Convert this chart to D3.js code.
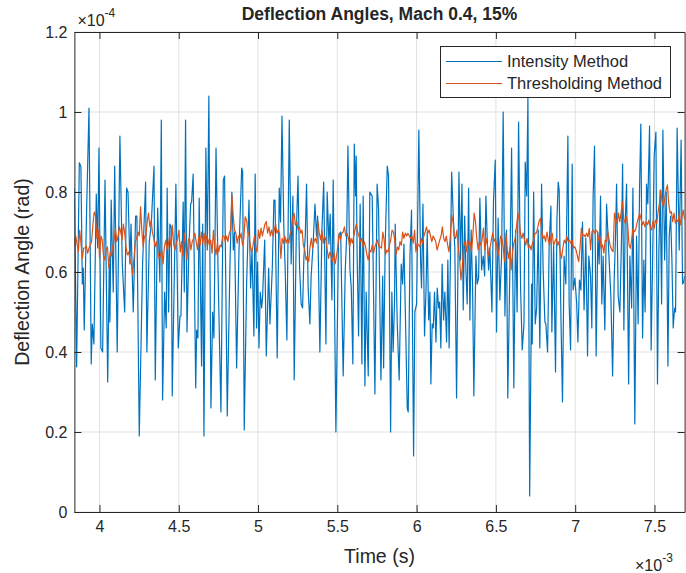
<!DOCTYPE html>
<html lang="en">
<head>
<meta charset="UTF-8">
<title>Deflection Angles, Mach 0.4, 15%</title>
<script src="https://d3js.org/d3.v7.min.js"></script>
<style>
  body { margin: 0; background: #fff; }
  text { font-family: "Liberation Sans", Arial, Helvetica, sans-serif; fill: #262626; }
</style>
</head>
<body>
<svg id="chart" width="686" height="573"></svg>
<script>
// time in ms (x10^-3 s), angle in x10^-4 rad
const timeRange = [3.842, 7.69];
const angleRange = [0, 1.2];
const xTicks = [4, 4.5, 5, 5.5, 6, 6.5, 7, 7.5];
const xTickLabels = ["4", "4.5", "5", "5.5", "6", "6.5", "7", "7.5"];
const yTicks = [0, 0.2, 0.4, 0.6, 0.8, 1, 1.2];
const yTickLabels = ["0", "0.2", "0.4", "0.6", "0.8", "1", "1.2"];
const seriesNames = ["Intensity Method", "Thresholding Method"];

// intensity method
const intensityTime = [
  3.842,3.856,3.873,3.883,3.892,3.898,3.904,3.919,3.934,3.948,
  3.955,3.965,3.980,3.989,3.997,4.009,4.020,4.035,4.052,4.062,
  4.066,4.074,4.087,4.096,4.112,4.129,4.144,4.159,4.171,4.180,
  4.192,4.199,4.213,4.228,4.236,4.251,4.272,4.291,4.299,4.314,
  4.327,4.344,4.352,4.367,4.381,4.390,4.398,4.411,4.421,4.427,
  4.436,4.444,4.453,4.459,4.482,4.497,4.508,4.514,4.528,4.535,
  4.543,4.552,4.564,4.575,4.581,4.591,4.607,4.613,4.621,4.629,
  4.644,4.651,4.659,4.671,4.680,4.690,4.703,4.714,4.722,4.735,
  4.749,4.766,4.781,4.789,4.806,
  4.823,4.835,4.844,4.852,4.865,4.880,4.897,4.903,4.913,4.928,
  4.943,4.953,4.962,4.974,4.982,4.991,4.997,5.006,5.014,5.023,
  5.029,5.042,5.052,5.067,5.075,5.090,5.100,5.107,5.121,5.134,
  5.142,5.151,5.163,5.171,5.182,5.197,5.209,5.220,5.228,5.241,
  5.252,5.262,5.272,5.281,5.289,5.298,5.306,5.316,5.327,5.335,
  5.348,5.359,5.369,5.376,5.390,5.403,5.414,5.428,5.436,5.447,
  5.455,5.466,5.474,5.480,5.491,5.508,5.521,5.537,5.550,5.559,
  5.567,5.579,5.588,5.598,5.607,5.615,5.619,5.625,5.634,5.644,
  5.655,5.663,5.674,5.682,5.695,5.705,5.720,5.737,5.751,5.760,
  5.775,5.786,5.792,5.802,5.815,5.823,5.836,5.844,5.852,5.861,
  5.865,5.878,5.890,5.903,5.912,5.920,5.931,5.941,5.947,5.958,
  5.968,5.981,5.989,6.000,6.014,6.025,6.031,6.040,6.050,6.059,
  6.067,6.076,6.084,6.090,6.098,6.105,6.113,6.122,6.130,6.139,
  6.145,6.153,6.161,6.170,6.178,6.189,6.197,6.205,6.221,6.231,
  6.241,6.252,6.267,6.277,6.286,6.294,6.303,6.311,6.319,6.328,
  6.336,6.344,6.353,6.361,6.374,6.382,6.391,6.399,6.410,6.420,
  6.429,6.437,6.445,6.454,6.462,6.475,6.485,6.496,6.504,6.514,
  6.525,6.536,6.546,6.557,6.567,6.575,6.588,6.599,6.613,6.624,
  6.634,6.643,6.656,6.666,6.677,6.685,6.694,6.702,6.713,
  6.725,6.729,6.738,6.748,6.757,6.767,6.777,6.788,6.798,6.809,
  6.815,6.826,6.836,6.847,6.853,6.864,6.876,6.885,6.893,6.899,
  6.910,6.920,6.930,6.941,6.954,6.962,6.971,6.981,6.987,6.998,
  7.009,7.017,7.027,7.036,7.046,7.056,7.067,7.078,7.086,7.097,
  7.105,7.113,7.122,7.132,7.143,7.151,7.160,7.168,7.176,7.187,
  7.198,7.206,7.214,7.225,7.236,7.246,7.255,7.261,7.271,7.282,
  7.293,7.299,7.307,7.315,7.324,7.337,7.345,7.356,7.364,7.376,
  7.387,7.397,7.406,7.414,7.425,7.433,7.441,7.450,7.458,7.469,
  7.479,7.488,7.498,7.509,7.519,7.528,7.536,7.545,7.553,7.564,
  7.574,7.585,7.593,7.602,7.610,7.618,7.627,7.633,7.643,7.656,
  7.668,7.677,7.685,7.690
];
const intensityAngle = [
  0.81,0.363,0.873,0.863,0.57,0.61,0.455,0.755,1.01,0.37,
  0.47,0.42,0.795,0.66,0.91,0.41,0.40,0.83,0.325,0.62,
  0.475,0.78,0.55,0.865,0.40,0.94,0.62,0.50,0.81,0.80,
  0.62,0.72,0.50,0.74,0.74,0.19,0.62,0.825,0.40,0.675,
  0.72,0.865,0.33,0.76,0.575,0.98,0.28,0.55,0.46,0.81,
  0.50,0.72,0.71,0.29,0.82,0.41,0.49,0.49,0.775,0.55,
  0.98,0.45,0.66,0.77,0.775,0.845,0.31,0.455,0.435,0.785,
  0.365,0.72,0.19,0.91,0.655,1.04,0.26,0.50,0.435,0.91,
  0.58,0.25,0.83,0.84,0.24,
  0.62,0.80,0.655,0.70,0.36,0.655,0.86,0.85,0.205,0.57,
  0.78,0.56,0.655,0.44,0.845,0.46,0.625,0.41,0.55,0.51,
  0.54,0.68,0.39,0.61,0.47,0.61,0.78,0.78,0.385,0.81,
  0.725,0.99,0.705,0.61,0.43,0.98,0.62,0.79,0.33,0.69,
  0.84,0.61,0.52,0.51,0.635,0.69,0.82,0.56,0.47,0.59,
  0.675,0.77,0.69,0.74,0.40,0.705,0.825,0.42,0.80,0.67,
  0.745,0.53,0.83,0.62,0.20,0.69,0.70,0.34,0.605,0.69,
  0.915,0.61,0.56,0.37,0.92,0.79,0.89,0.64,0.44,0.77,
  0.37,0.79,0.315,0.55,0.34,0.80,0.79,0.295,0.82,0.76,
  0.33,0.59,0.36,0.67,0.865,0.84,0.20,0.55,0.40,0.53,
  0.72,0.47,0.33,0.62,0.57,0.67,0.46,0.26,0.25,0.64,
  0.755,0.14,0.50,0.52,0.955,0.63,0.56,0.77,0.44,0.55,
  0.70,0.48,0.55,0.32,0.47,0.46,0.55,0.425,0.56,0.51,
  0.525,0.41,0.62,0.48,0.55,0.425,0.63,0.41,0.85,0.74,
  0.66,0.285,0.85,0.63,0.82,0.505,0.74,0.605,0.52,0.81,
  0.48,0.705,0.56,0.29,0.64,0.57,0.585,0.785,0.605,0.64,
  0.59,0.79,0.685,0.605,0.66,0.50,0.78,0.88,0.45,0.735,
  0.53,0.64,1.00,0.49,0.705,0.285,0.605,0.91,0.31,0.705,
  0.50,0.975,0.555,0.405,0.47,0.875,0.79,1.035,0.04,
  0.57,0.42,0.80,0.47,0.51,0.705,0.41,0.82,0.605,0.475,
  0.47,0.40,0.67,0.765,0.45,0.67,0.35,0.73,0.825,0.805,
  0.49,0.275,0.64,0.57,0.94,0.52,0.405,0.87,0.555,0.585,
  0.525,0.425,0.58,0.555,0.725,0.505,0.685,0.39,0.64,0.59,
  0.46,0.785,0.915,0.39,0.70,0.62,0.79,0.52,0.64,0.455,
  0.77,0.70,0.63,0.54,0.34,0.58,0.70,0.82,0.54,0.50,
  0.70,0.87,0.455,0.72,0.82,0.32,0.64,0.51,0.81,0.22,
  0.69,0.47,0.81,0.97,0.435,0.63,0.50,0.82,0.77,0.965,
  0.405,0.62,0.89,0.95,0.32,0.655,0.805,0.52,0.955,0.63,
  0.80,0.365,0.69,0.74,0.63,0.46,0.51,0.50,0.96,0.655,
  0.93,0.57,0.575,0.59
];

// thresholding method, evenly spaced frames from timeRange[0] to timeRange[1]
const thresholdAngle = [
  0.663,0.69,0.67,0.65,0.705,0.67,0.634,0.66,0.66,0.665,
  0.647,0.66,0.667,0.676,0.72,0.75,0.74,0.684,0.705,0.634,
  0.69,0.68,0.64,0.63,0.655,0.663,0.61,0.65,0.64,0.665,
  0.68,0.71,0.676,0.69,0.713,0.70,0.68,0.72,0.697,0.663,
  0.643,0.65,0.63,0.62,0.593,0.634,0.676,0.684,0.70,0.69,
  0.763,0.70,0.663,0.69,0.69,0.726,0.747,0.713,0.73,0.697,
  0.684,0.663,0.676,0.65,0.634,0.64,0.655,0.62,0.663,0.68,
  0.655,0.67,0.69,0.663,0.717,0.67,0.655,
  0.672,0.684,0.705,0.65,0.676,0.64,0.697,0.667,0.63,0.68,
  0.684,0.655,0.676,0.684,0.697,0.676,0.655,0.69,0.667,0.70,
  0.672,0.697,0.663,0.69,0.68,0.667,0.68,0.647,0.705,0.663,
  0.643,0.672,0.65,0.667,0.663,0.69,0.69,0.676,0.69,0.676,
  0.697,0.705,0.793,0.738,0.705,0.697,0.672,0.69,0.684,0.697,
  0.667,0.684,0.738,0.73,0.70,0.69,0.663,0.65,0.667,0.69,
  0.663,0.65,0.705,0.684,0.71,0.69,0.705,0.72,0.726,0.697,
  0.713,0.69,0.705,0.69,0.705,0.72,0.697,
  0.705,0.697,0.634,0.684,0.672,0.69,0.672,0.684,0.672,0.697,
  0.705,0.738,0.747,0.717,0.726,0.705,0.713,0.697,0.705,0.667,
  0.655,0.63,0.64,0.626,0.663,0.684,0.66,0.676,0.684,0.672,
  0.726,0.697,0.68,0.705,0.672,0.69,0.68,0.655,0.634,0.65,
  0.64,0.626,0.65,0.62,0.64,0.663,0.697,0.68,0.697,0.70,
  0.713,0.69,0.697,0.684,0.663,0.684,0.672,0.69,0.705,0.72,
  0.70,0.69,0.676,0.684,0.663,0.676,0.663,0.643,0.63,0.655,
  0.65,0.667,0.647,0.663,0.672,0.68,0.663,
  0.663,0.66,0.70,0.68,0.643,0.655,0.65,0.667,0.68,0.705,
  0.70,0.68,0.643,0.663,0.655,0.676,0.667,0.70,0.684,0.697,
  0.69,0.697,0.69,0.684,0.69,0.672,0.705,0.65,0.672,0.667,
  0.663,0.684,0.672,0.69,0.70,0.713,0.697,0.705,0.69,0.676,
  0.69,0.684,0.676,0.655,0.667,0.68,0.69,0.713,0.684,0.676,
  0.69,0.667,0.65,0.69,0.743,0.726,0.69,0.684,0.705,0.663,
  0.634,0.58,0.61,0.663,0.676,0.65,0.68,0.667,0.676,0.65,
  0.69,0.747,0.726,0.684,0.655,0.676,0.667,
  0.68,0.71,0.655,0.684,0.667,0.64,0.66,0.68,0.697,0.676,
  0.684,0.667,0.64,0.663,0.69,0.684,0.66,0.626,0.697,0.655,
  0.634,0.663,0.605,0.65,0.672,0.684,0.713,0.747,0.73,0.697,
  0.684,0.697,0.68,0.667,0.684,0.66,0.667,0.655,0.672,0.68,
  0.697,0.697,0.71,0.726,0.734,0.705,0.684,0.69,0.676,0.70,
  0.68,0.667,0.69,0.697,0.667,0.676,0.684,0.667,0.676,0.65,
  0.634,0.66,0.68,0.672,0.69,0.676,0.68,0.672,0.68,0.66,
  0.663,0.655,0.64,0.626,0.66,0.71,0.69,
  0.693,0.688,0.697,0.688,0.709,0.655,0.701,0.705,0.697,0.705,
  0.701,0.68,0.688,0.659,0.668,0.647,0.68,0.676,0.701,0.68,
  0.663,0.655,0.651,0.747,0.734,0.722,0.747,0.726,0.747,0.776,
  0.734,0.722,0.738,0.718,0.668,0.659,0.68,0.709,0.701,0.705,
  0.722,0.734,0.747,0.734,0.718,0.726,0.713,0.726,0.718,0.73,
  0.713,0.705,0.726,0.709,0.73,0.722,0.751,0.772,0.805,0.776,
  0.763,0.784,0.805,0.818,0.772,0.747,0.751,0.726,0.747,0.722,
  0.73,0.726,0.747,0.718,0.738,0.755,0.73
];

const colors = ["#0072BD", "#D95319"];
const axisColor = "#262626";
const gridColor = "#e1e1e1";

const W = 686, H = 573;
const margin = {top: 32, right: 1.4, bottom: 61, left: 74.4};
const plotW = W - margin.left - margin.right;
const plotH = H - margin.top - margin.bottom;

const svg = d3.select("#chart");
svg.append("rect").attr("width", W).attr("height", H).attr("fill", "#fff");

const x = d3.scaleLinear().domain(timeRange).range([margin.left, margin.left + plotW]);
const y = d3.scaleLinear().domain(angleRange).range([margin.top + plotH, margin.top]);

// grid
const grid = svg.append("g");
grid.selectAll(".gx").data(xTicks).enter().append("line")
  .attr("x1", d => x(d)).attr("x2", d => x(d))
  .attr("y1", margin.top).attr("y2", margin.top + plotH)
  .attr("stroke", gridColor).attr("stroke-width", 1);
grid.selectAll(".gy").data(yTicks).enter().append("line")
  .attr("x1", margin.left).attr("x2", margin.left + plotW)
  .attr("y1", d => y(d)).attr("y2", d => y(d))
  .attr("stroke", gridColor).attr("stroke-width", 1);

// lines
svg.append("clipPath").attr("id", "clip").append("rect")
  .attr("x", margin.left).attr("y", margin.top).attr("width", plotW).attr("height", plotH);

const intensity = intensityTime.map((t, i) => [t, intensityAngle[i]]);
const step = (timeRange[1] - timeRange[0]) / (thresholdAngle.length - 1);
const threshold = thresholdAngle.map((v, i) => [timeRange[0] + i * step, v]);

const line = d3.line().x(d => x(d[0])).y(d => y(d[1]));
const plot = svg.append("g").attr("clip-path", "url(#clip)");
plot.append("path").datum(intensity).attr("d", line)
  .attr("fill", "none").attr("stroke", colors[0]).attr("stroke-width", 1.2).attr("stroke-linejoin", "round");
plot.append("path").datum(threshold).attr("d", line)
  .attr("fill", "none").attr("stroke", colors[1]).attr("stroke-width", 1.2).attr("stroke-linejoin", "round");

// axes
const tickLen = 7;
function styleAxis(g) {
  g.selectAll("path").attr("stroke", axisColor).attr("stroke-width", 1);
  g.selectAll("line").attr("stroke", axisColor).attr("stroke-width", 1);
  g.selectAll("text").attr("fill", axisColor).style("font-size", "16px")
    .style("font-family", '"Liberation Sans", Arial, sans-serif');
}
svg.append("g").attr("transform", `translate(0,${margin.top + plotH})`)
  .call(d3.axisBottom(x).tickValues(xTicks).tickFormat((d, i) => xTickLabels[i])
    .tickSizeInner(-tickLen).tickSizeOuter(0).tickPadding(9))
  .call(styleAxis);
svg.append("g").attr("transform", `translate(0,${margin.top})`)
  .call(d3.axisTop(x).tickValues(xTicks).tickFormat("").tickSizeInner(-tickLen).tickSizeOuter(0))
  .call(styleAxis);
svg.append("g").attr("transform", `translate(${margin.left},0)`)
  .call(d3.axisLeft(y).tickValues(yTicks).tickFormat((d, i) => yTickLabels[i])
    .tickSizeInner(-tickLen).tickSizeOuter(0).tickPadding(7))
  .call(styleAxis);
svg.append("g").attr("transform", `translate(${margin.left + plotW},0)`)
  .call(d3.axisRight(y).tickValues(yTicks).tickFormat("").tickSizeInner(-tickLen).tickSizeOuter(0))
  .call(styleAxis);

// exponent labels
const expTop = svg.append("text").attr("x", margin.left + 3).attr("y", 26).style("font-size", "16px");
expTop.append("tspan").text("\u00d710");
expTop.append("tspan").attr("dy", -9).style("font-size", "12px").text("-4");
const expBot = svg.append("text").attr("x", 635).attr("y", 571).style("font-size", "16px");
expBot.append("tspan").text("\u00d710");
expBot.append("tspan").attr("dy", -9).style("font-size", "12px").text("-3");

// titles
svg.append("text").attr("x", margin.left + plotW / 2).attr("y", 20)
  .attr("text-anchor", "middle").style("font-size", "17.5px").style("font-weight", "bold")
  .text("Deflection Angles, Mach 0.4, 15%");
svg.append("text").attr("x", margin.left + plotW / 2).attr("y", 563)
  .attr("text-anchor", "middle").style("font-size", "19.5px").text("Time (s)");
svg.append("text").attr("transform", `translate(29,${margin.top + plotH / 2}) rotate(-90)`)
  .attr("text-anchor", "middle").style("font-size", "19.5px").text("Deflection Angle (rad)");

// legend
const legend = svg.append("g");
legend.append("rect").attr("x", 440.5).attr("y", 46.5).attr("width", 230).attr("height", 51)
  .attr("fill", "#fff").attr("stroke", axisColor).attr("stroke-width", 1);
seriesNames.forEach((name, i) => {
  const ly = 61.5 + i * 22;
  legend.append("line").attr("x1", 446).attr("x2", 502).attr("y1", ly).attr("y2", ly)
    .attr("stroke", colors[i]).attr("stroke-width", 1.2);
  legend.append("text").attr("x", 507).attr("y", ly + 5.5).style("font-size", "16.5px").text(name);
});
</script>
</body>
</html>
